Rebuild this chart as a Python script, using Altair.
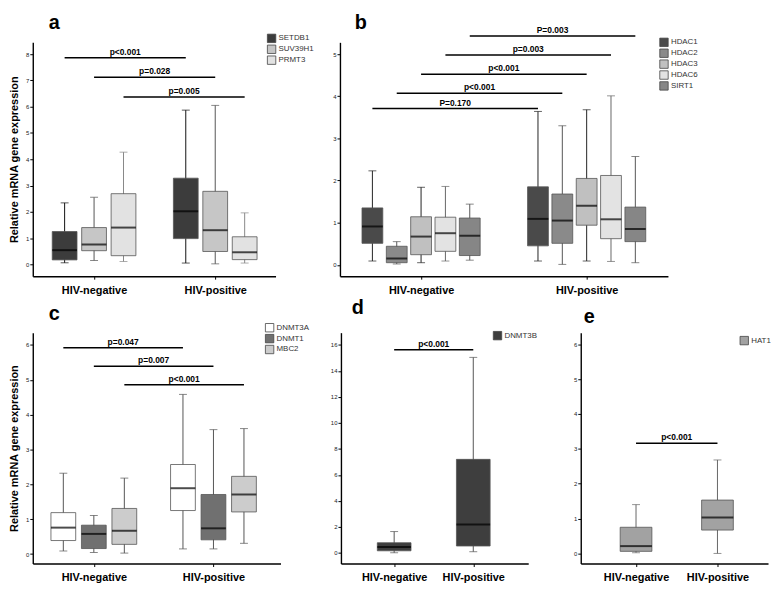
import altair as alt
import pandas as pd

FONT = "Liberation Sans"
groups = ["HIV-negative", "HIV-positive"]

# ---------------- panel a ----------------
a_series = ["SETDB1", "SUV39H1", "PRMT3"]
a_low  = [0.06, 0.15, 0.11, 0.05, 0.02, 0.05]
a_q1   = [0.17, 0.52, 0.33, 0.98, 0.49, 0.18]
a_med  = [0.54, 0.76, 1.40, 2.02, 1.30, 0.46]
a_q3   = [1.25, 1.40, 2.69, 3.28, 2.78, 1.05]
a_high = [2.34, 2.55, 4.27, 5.87, 6.05, 1.96]
a_sig_y = [7.86, 7.12, 6.37]
a_sig_label = ["p<0.001", "p=0.028", "p=0.005"]

# ---------------- panel b ----------------
b_series = ["HDAC1", "HDAC2", "HDAC3", "HDAC6", "SIRT1"]
b_low  = [0.09, 0.02, 0.05, 0.09, 0.11, 0.09, 0.01, 0.09, 0.08, 0.05]
b_q1   = [0.51, 0.05, 0.24, 0.32, 0.22, 0.45, 0.51, 0.94, 0.62, 0.55]
b_med  = [0.91, 0.15, 0.67, 0.75, 0.69, 1.09, 1.05, 1.40, 1.08, 0.85]
b_q3   = [1.35, 0.44, 1.14, 1.13, 1.11, 1.85, 1.68, 2.05, 2.12, 1.37]
b_high = [2.23, 0.55, 1.84, 1.86, 1.44, 3.64, 3.30, 3.68, 4.01, 2.57]
b_sig_y = [3.71, 4.07, 4.52, 4.98, 5.43]
b_sig_label = ["P=0.170", "p<0.001", "p<0.001", "p=0.003", "P=0.003"]

# ---------------- panel c ----------------
c_series = ["DNMT3A", "DNMT1", "MBC2"]
c_low  = [0.09, 0.05, 0.03, 0.15, 0.15, 0.31]
c_q1   = [0.39, 0.16, 0.28, 1.25, 0.41, 1.21]
c_med  = [0.76, 0.58, 0.67, 1.89, 0.74, 1.71]
c_q3   = [1.19, 0.83, 1.31, 2.57, 1.71, 2.23]
c_high = [2.32, 1.11, 2.18, 4.58, 3.57, 3.60]
c_sig_y = [5.92, 5.39, 4.86]
c_sig_label = ["p=0.047", "p=0.007", "p<0.001"]

# ---------------- panel d ----------------
d_series = ["DNMT3B"]
d_low  = [0.02, 0.10]
d_q1   = [0.17, 0.54]
d_med  = [0.47, 2.19]
d_q3   = [0.79, 7.20]
d_high = [1.65, 15.04]
d_sig_y = [15.63]
d_sig_label = ["p<0.001"]

# ---------------- panel e ----------------
e_series = ["HAT1"]
e_low  = [0.02, 0.00]
e_q1   = [0.06, 0.67]
e_med  = [0.21, 1.03]
e_q3   = [0.75, 1.53]
e_high = [1.40, 2.68]
e_sig_y = [3.16]
e_sig_label = ["p<0.001"]

panel_letters = ["a", "b", "c", "d", "e"]
YTITLE = "Relative mRNA gene expression"
groups_js = "[" + ",".join("'" + g + "'" for g in groups) + "]"


def panel(series, low, q1, med, q3, high, sig_y, sig_label, fills, whisk,
          spacing, box_px, xdom, ydom, yticks, width, height, legend_xy,
          letter, letter_dx, letter_dy, ytitle):
    n = len(series)
    rows = []
    for g, grp in enumerate(groups):
        for j, s in enumerate(series):
            k = g * n + j
            rows.append(dict(series=s, wseries=s, group=grp,
                             pos=g + (j - (n - 1) / 2) * spacing,
                             low=low[k], q1=q1[k], med=med[k], q3=q3[k], high=high[k]))
    df = pd.DataFrame(rows)
    srows = []
    for j, (yv, lab) in enumerate(zip(sig_y, sig_label)):
        off = (j - (n - 1) / 2) * spacing
        srows.append(dict(x1=0 + off, x2=1 + off, mid=0.5 + off, y=yv, label=lab))
    sdf = pd.DataFrame(srows)

    xs = alt.Scale(domain=xdom, nice=False, zero=False)
    ys = alt.Scale(domain=ydom, nice=False, zero=False)
    xaxis = alt.Axis(values=[0, 1], labelExpr=groups_js + "[datum.value]",
                     tickSize=3, tickColor="black", labelFontSize=11,
                     labelFontWeight="bold", labelColor="black", labelPadding=5,
                     labelFont=FONT, domainColor="black", domainWidth=1.4,
                     grid=False, title=None)
    yargs = dict(values=yticks, tickSize=3, tickColor="black", labelFontSize=6,
                 labelPadding=1, labelColor="#222", labelFont=FONT,
                 domainColor="black", domainWidth=1.4, grid=False)
    if ytitle:
        yaxis = alt.Axis(title=ytitle, titleFontSize=11, titleFontWeight="bold",
                         titleFont=FONT, titleColor="black", titlePadding=6, **yargs)
    else:
        yaxis = alt.Axis(title=None, **yargs)

    def X(f):
        return alt.X(f + ":Q", scale=xs, axis=xaxis)

    def Y(f):
        return alt.Y(f + ":Q", scale=ys, axis=yaxis)

    # whisker colours: data-driven domain (sorted like the series) so that this
    # scale is never merged with the filled-box legend
    wscale = alt.Scale(range=whisk)
    base = alt.Chart(df)
    whisker = base.mark_rule(strokeWidth=1).encode(
        x=X("pos"), y=Y("low"), y2="high",
        stroke=alt.Stroke("wseries:N", sort=series, scale=wscale, legend=None))
    cap_lo = base.mark_tick(orient="horizontal", size=8, thickness=1).encode(
        x=X("pos"), y=Y("low"),
        color=alt.Color("wseries:N", sort=series, scale=wscale, legend=None))
    cap_hi = base.mark_tick(orient="horizontal", size=8, thickness=1).encode(
        x=X("pos"), y=Y("high"),
        color=alt.Color("wseries:N", sort=series, scale=wscale, legend=None))
    box = base.mark_bar(width=box_px, stroke="#555", strokeWidth=0.8).encode(
        x=X("pos"), y=Y("q1"), y2="q3",
        fill=alt.Fill("series:N", scale=alt.Scale(domain=series, range=fills),
                      legend=alt.Legend(orient="none", legendX=legend_xy[0],
                                        legendY=legend_xy[1], title=None,
                                        symbolType="square", symbolSize=72,
                                        symbolStrokeColor="#444",
                                        symbolStrokeWidth=0.8, symbolOpacity=1,
                                        labelFontSize=8, labelFont=FONT,
                                        labelColor="#333", rowPadding=-2,
                                        labelOffset=2, padding=0)))
    median = base.mark_tick(orient="horizontal", size=box_px, thickness=2,
                            color="black").encode(x=X("pos"), y=Y("med"))
    sbase = alt.Chart(sdf)
    srule = sbase.mark_rule(strokeWidth=1.5, color="black").encode(
        x=X("x1"), x2="x2", y=Y("y"))
    stext = sbase.mark_text(fontSize=8.5, fontWeight="bold", font=FONT,
                            baseline="bottom", dy=-1, color="black").encode(
        x=X("mid"), y=Y("y"), text="label:N")
    lab = alt.Chart(pd.DataFrame({"t": [letter]})).mark_text(
        fontSize=20, fontWeight="bold", font=FONT, align="left",
        baseline="alphabetic", color="black").encode(
        text="t:N", x=alt.value(letter_dx), y=alt.value(letter_dy))
    return alt.layer(whisker, cap_lo, cap_hi, box, median, srule, stext, lab).properties(
        width=width, height=height)


pa = panel(a_series, a_low, a_q1, a_med, a_q3, a_high, a_sig_y, a_sig_label,
           ["#3c3c3c", "#c6c6c6", "#e2e2e2"], ["#111111", "#555555", "#888888"],
           0.243, 25, [-0.465, 1.457], [-0.45, 8.45], list(range(0, 9)),
           245, 236, (236, -9), panel_letters[0], 16, -13, YTITLE)
pb = panel(b_series, b_low, b_q1, b_med, b_q3, b_high, b_sig_y, b_sig_label,
           ["#4a4a4a", "#8a8a8a", "#c0c0c0", "#e3e3e3", "#868686"],
           ["#222222", "#555555", "#222222", "#666666", "#555555"],
           0.147, 21, [-0.46, 1.461], [-0.27, 5.28], list(range(0, 6)),
           331, 236, (322, -5), panel_letters[1], 15, -13, None)
pc = panel(c_series, c_low, c_q1, c_med, c_q3, c_high, c_sig_y, c_sig_label,
           ["#ffffff", "#707070", "#cccccc"], ["#555555", "#555555", "#555555"],
           0.255, 25, [-0.469, 1.519], [-0.27, 6.35], list(range(0, 7)),
           250, 233, (234, -10), panel_letters[2], 16, -13, YTITLE)
pd_ = panel(d_series, d_low, d_q1, d_med, d_q3, d_high, d_sig_y, d_sig_label,
            ["#3e3e3e"], ["#555555"],
            0.2, 34, [-0.61, 1.632], [-0.81, 16.94], list(range(0, 17, 2)),
            189, 233, (153, -2), panel_letters[3], 11, -18.7, None)
pe = panel(e_series, e_low, e_q1, e_med, e_q3, e_high, e_sig_y, e_sig_label,
           ["#a2a2a2"], ["#666666"],
           0.2, 32, [-0.618, 1.56], [-0.29, 6.33], list(range(0, 7)),
           189, 233, (160, 3), panel_letters[4], 3, -9.3, None)


def indep(c):
    return c.resolve_scale(fill="independent", stroke="independent",
                           color="independent").resolve_legend(
        fill="independent", stroke="independent", color="independent")


top = indep(alt.hconcat(pa, pb, spacing=65, bounds="flush"))
de = indep(alt.hconcat(pd_, pe, spacing=53, bounds="flush"))
bottom = indep(alt.hconcat(pc, de, spacing=61, bounds="flush"))
chart = indep(alt.vconcat(top, bottom, spacing=3)).properties(
    padding={"top": 3, "left": 0, "right": 0, "bottom": 0}).configure(
    font=FONT, view=alt.ViewConfig(stroke=None))

chart.save("out.html", embed_options={"renderer": "svg", "actions": False})
